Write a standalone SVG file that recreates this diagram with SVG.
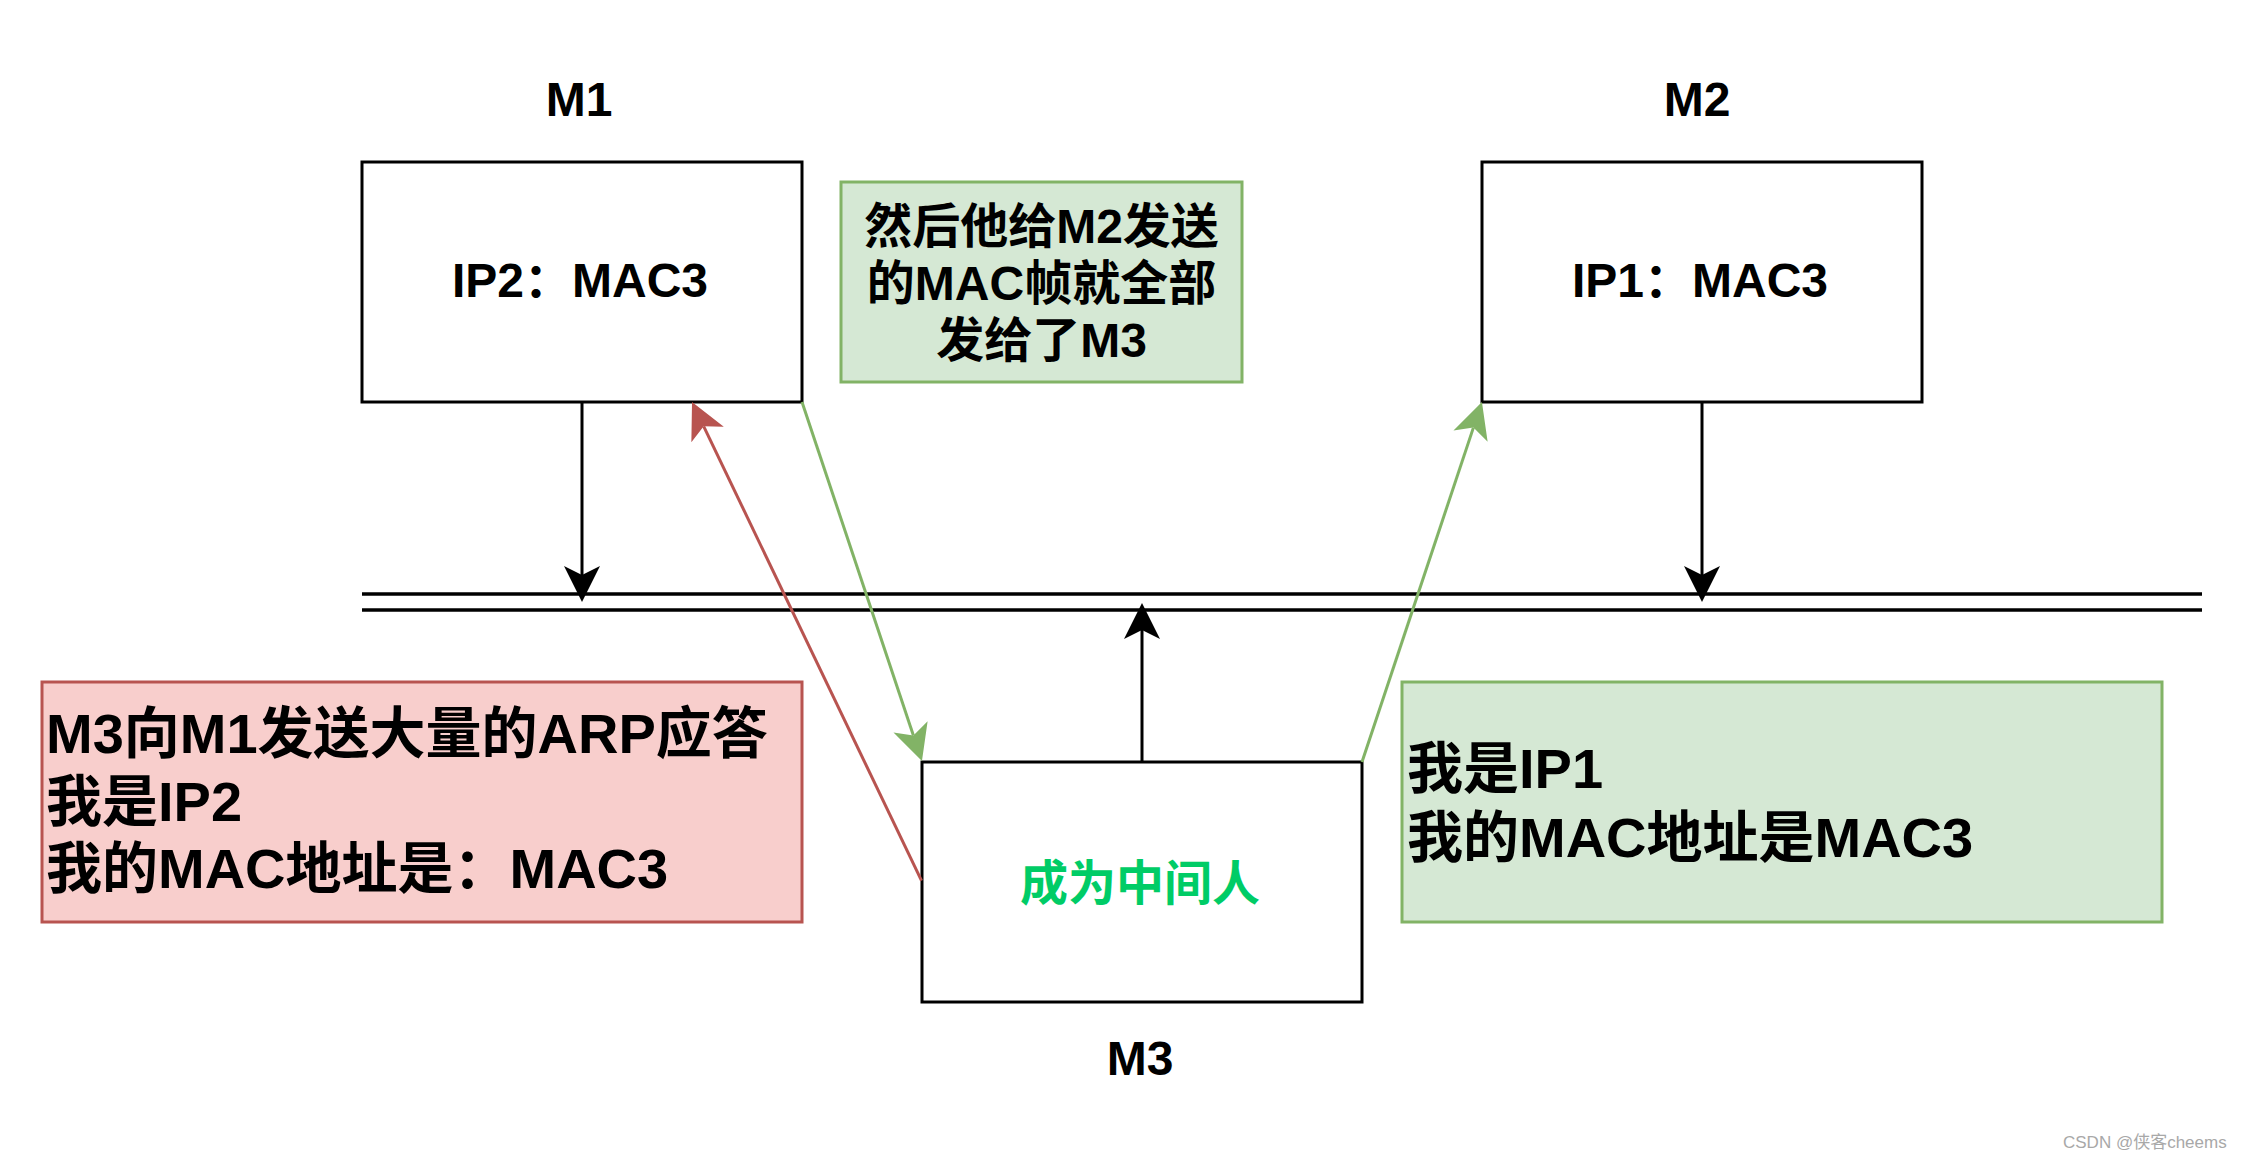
<svg xmlns="http://www.w3.org/2000/svg" width="2244" height="1160" viewBox="0 0 2244 1160">
<style>
  .box { fill: #ffffff; stroke: #000000; stroke-width: 3; }
  .lbl { font-family: "Liberation Sans", Arial, "Noto Sans CJK SC", sans-serif; font-weight: bold; font-size: 48px; fill: #000000; }
  .big { font-size: 56px; }
  .note-g { fill: #d5e8d4; stroke: #82b366; stroke-width: 3; }
  .note-r { fill: #f8cecc; stroke: #b85450; stroke-width: 3; }
  .blk { stroke: #000000; stroke-width: 3; fill: none; }
  .red { stroke: #b85450; stroke-width: 3; fill: none; }
  .grn { stroke: #82b366; stroke-width: 3; fill: none; }
  .bus { stroke: #000000; stroke-width: 3.3; fill: none; }
</style>
<defs>
  <marker id="ab" viewBox="-38 -20 40 40" refX="-27" refY="0" markerWidth="40" markerHeight="40" markerUnits="userSpaceOnUse" orient="auto">
    <path d="M0,0 L-36,-18 L-27,0 L-36,18 Z" fill="#000000"/>
  </marker>
  <marker id="ar" viewBox="-38 -20 40 40" refX="-27" refY="0" markerWidth="40" markerHeight="40" markerUnits="userSpaceOnUse" orient="auto">
    <path d="M0,0 L-36,-18 L-27,0 L-36,18 Z" fill="#b85450"/>
  </marker>
  <marker id="ag" viewBox="-38 -20 40 40" refX="-27" refY="0" markerWidth="40" markerHeight="40" markerUnits="userSpaceOnUse" orient="auto">
    <path d="M0,0 L-36,-18 L-27,0 L-36,18 Z" fill="#82b366"/>
  </marker>
</defs>
<rect x="0" y="0" width="2244" height="1160" fill="#ffffff"/>

<g id="bus">
  <line class="bus" x1="362" y1="594" x2="2202" y2="594"/>
  <line class="bus" x1="362" y1="610" x2="2202" y2="610"/>
</g>

<g id="M1">
  <text class="lbl" x="579" y="116" text-anchor="middle">M1</text>
  <rect class="box" x="362" y="162" width="440" height="240"/>
  <text class="lbl" x="580" y="297" text-anchor="middle">IP2：MAC3</text>
</g>

<g id="M2">
  <text class="lbl" x="1697" y="116" text-anchor="middle">M2</text>
  <rect class="box" x="1482" y="162" width="440" height="240"/>
  <text class="lbl" x="1700" y="297" text-anchor="middle">IP1：MAC3</text>
</g>

<g id="M3">
  <rect class="box" x="922" y="762" width="440" height="240"/>
  <text class="lbl" x="1140" y="900" text-anchor="middle" style="fill:#00CC66">成为中间人</text>
  <text class="lbl" x="1140" y="1075" text-anchor="middle">M3</text>
</g>

<g id="note-top">
  <rect class="note-g" x="841" y="182" width="401" height="200"/>
  <text class="lbl" x="1041.5" y="243" text-anchor="middle">然后他给M2发送</text>
  <text class="lbl" x="1041.5" y="300" text-anchor="middle">的MAC帧就全部</text>
  <text class="lbl" x="1041.5" y="357" text-anchor="middle">发给了M3</text>
</g>

<g id="note-red">
  <rect class="note-r" x="42" y="682" width="760" height="240"/>
  <text class="lbl big" x="46" y="753">M3向M1发送大量的ARP应答</text>
  <text class="lbl big" x="46" y="821">我是IP2</text>
  <text class="lbl big" x="46" y="888">我的MAC地址是：MAC3</text>
</g>

<g id="note-right">
  <rect class="note-g" x="1402" y="682" width="760" height="240"/>
  <text class="lbl big" x="1407" y="788">我是IP1</text>
  <text class="lbl big" x="1407" y="857">我的MAC地址是MAC3</text>
</g>

<g id="connectors">
  <line class="blk" x1="582" y1="402" x2="582" y2="575" marker-end="url(#ab)"/>
  <line class="blk" x1="1702" y1="402" x2="1702" y2="575" marker-end="url(#ab)"/>
  <line class="blk" x1="1142" y1="762" x2="1142" y2="630" marker-end="url(#ab)"/>
  <line class="red" x1="921.5" y1="880.7" x2="703.7" y2="426.3" marker-end="url(#ar)"/>
  <line class="grn" x1="802" y1="402" x2="913.4" y2="735.4" marker-end="url(#ag)"/>
  <line class="grn" x1="1362" y1="762" x2="1473.4" y2="427.6" marker-end="url(#ag)"/>
</g>

<text x="2063" y="1148" font-family="Liberation Sans, Arial, 'Noto Sans CJK SC', sans-serif" font-size="17" fill="#a8a8a8">CSDN @侠客cheems</text>
</svg>
